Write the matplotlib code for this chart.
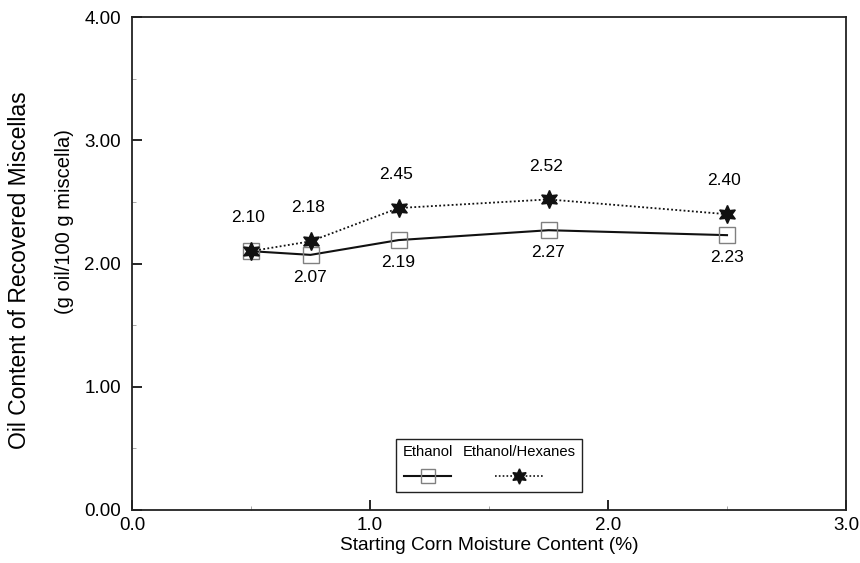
import matplotlib
matplotlib.use("Agg")
import matplotlib.pyplot as plt
from matplotlib.lines import Line2D
from matplotlib.offsetbox import AnchoredOffsetbox, VPacker, HPacker, TextArea, DrawingArea
from matplotlib.ticker import MultipleLocator, FormatStrFormatter

plt.rcParams["font.family"] = ["Liberation Sans", "DejaVu Sans"]

# data
moisture = [0.5, 0.75, 1.12, 1.75, 2.5]
ethanol = [2.10, 2.07, 2.19, 2.27, 2.23]
ethanol_hexanes = [2.10, 2.18, 2.45, 2.52, 2.40]

star6 = (6, 1, 0)
sq_color = "#808080"

fig = plt.figure(figsize=(8.6, 5.63), dpi=100)
ax = fig.add_axes([132 / 860, 1 - 510 / 563, 714 / 860, 493 / 563])

ax.plot(moisture, ethanol, color="#111111", lw=1.5, ls="-", marker="s",
        ms=12, mfc="none", mec=sq_color, mew=1.0, zorder=3)
ax.plot(moisture, ethanol_hexanes, color="#111111", lw=1.3, ls=(0, (1.0, 1.3)),
        marker=star6, ms=13, mfc="#111111", mec="#111111", zorder=4)

# value labels: hexanes above, ethanol below (shared first point labeled once)
for x, y in zip(moisture, ethanol_hexanes):
    ax.annotate(f"{y:.2f}", (x, y), xytext=(-2, 24), textcoords="offset points",
                ha="center", va="center", fontsize=12.5)
for x, y, yh in zip(moisture, ethanol, ethanol_hexanes):
    if y == yh:
        continue
    ax.annotate(f"{y:.2f}", (x, y), xytext=(0, -16), textcoords="offset points",
                ha="center", va="center", fontsize=12.5)

ax.set_xlim(0, 3)
ax.set_ylim(0, 4)
ax.xaxis.set_major_locator(MultipleLocator(1.0))
ax.xaxis.set_minor_locator(MultipleLocator(0.5))
ax.yaxis.set_major_locator(MultipleLocator(1.0))
ax.yaxis.set_minor_locator(MultipleLocator(0.5))
ax.xaxis.set_major_formatter(FormatStrFormatter("%.1f"))
ax.yaxis.set_major_formatter(FormatStrFormatter("%.2f"))
ax.tick_params(axis="both", which="major", direction="in", length=7, width=1.2,
               labelsize=13.5, top=False, right=False)
ax.tick_params(axis="x", which="major", pad=5)
ax.tick_params(axis="y", which="major", pad=8)
ax.tick_params(axis="both", which="minor", direction="in", length=3, width=0.6,
               color="#999999", top=False, right=False)
for s in ax.spines.values():
    s.set_linewidth(1.3)
    s.set_color("#222222")

fig.text(20 / 860, 1 - 270 / 563, "Oil Content of Recovered Miscellas",
         rotation=90, ha="center", va="center", fontsize=16.5)
fig.text(65 / 860, 1 - 222 / 563, "(g oil/100 g miscella)",
         rotation=90, ha="center", va="center", fontsize=14.5)
ax.set_xlabel("Starting Corn Moisture Content (%)", fontsize=13.8, labelpad=2)


def legend_entry(label, ls, lw, marker, ms, mfc, mec):
    da = DrawingArea(34, 14, 0, 0)
    da.add_artist(Line2D([0, 34], [7, 7], color="#111111", ls=ls, lw=lw))
    da.add_artist(Line2D([17], [7], marker=marker, ms=ms, mfc=mfc, mec=mec,
                         mew=1.0, ls="none"))
    txt = TextArea(label, textprops=dict(fontsize=10.6))
    return VPacker(children=[txt, da], align="center", pad=0, sep=5)


entries = HPacker(children=[
    legend_entry("Ethanol", "-", 1.5, "s", 10, "none", sq_color),
    legend_entry("Ethanol/Hexanes", (0, (1.0, 1.3)), 1.2, star6, 11, "#111111", "#111111"),
], align="center", pad=0, sep=7)
box = AnchoredOffsetbox(loc="center", child=entries, pad=0.45, borderpad=0,
                        bbox_to_anchor=(0.5, 0.09), bbox_transform=ax.transAxes,
                        frameon=True)
box.patch.set_boxstyle("square", pad=0)
box.patch.set_edgecolor("#222222")
box.patch.set_linewidth(1.0)
ax.add_artist(box)

fig.savefig("out.png", dpi=100)
